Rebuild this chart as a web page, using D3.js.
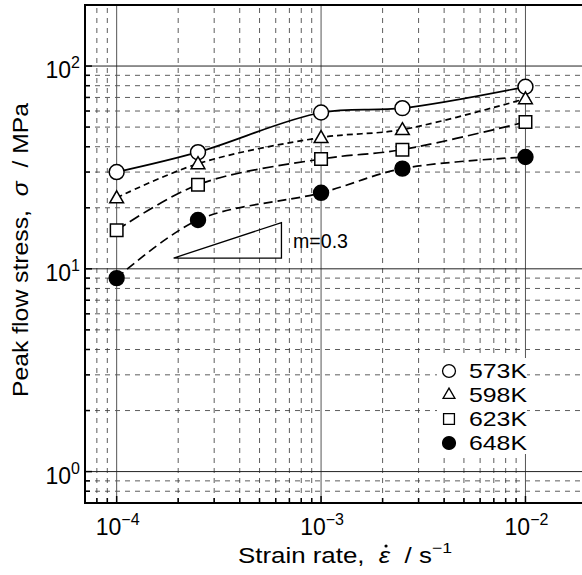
<!DOCTYPE html>
<html>
<head>
<meta charset="utf-8">
<script src="https://cdn.jsdelivr.net/npm/d3@7"></script>
<style>
  html, body { margin: 0; padding: 0; background: #fff; }
  svg { display: block; overflow: hidden; }
  text { font-family: "Liberation Sans", Arial, sans-serif; fill: #000; white-space: pre; }
</style>
</head>
<body>
<div id="chart"></div>
<script>
// strain rates (1/s) and peak flow stress (MPa)
const rates = [1e-4, 2.5e-4, 1e-3, 2.5e-3, 1e-2];
const s573 = [30, 37.6, 59, 62, 79];
const s598 = [22.4, 33, 44.4, 48.6, 69];
const s623 = [15.5, 26, 34.8, 38.7, 53];
const s648 = [9, 17.4, 23.7, 31.2, 35.6];
const seriesNames = ['573K', '598K', '623K', '648K'];

// slope marker triangle
const triX = [1.9e-4, 6.4e-4];
const triY = [11.3, 16.9];
const slopeLabel = 'm=0.3';

const xMajor = [1e-4, 1e-3, 1e-2];
const yMajor = [1, 10, 100];

const W = 582, H = 575;
const m = {l: 85, t: 5, r: -5, b: 72}; // right frame falls outside the window

const svg = d3.select('#chart').append('svg')
	.attr('width', W)
	.attr('height', H);

const x = d3.scaleLog().domain([7e-5, 2e-2]).range([m.l, W - m.r]);
const y = d3.scaleLog().domain([0.7, 200]).range([H - m.b, m.t]);

const x0 = x.range()[0], x1 = x.range()[1];
const y0 = y.range()[0], y1 = y.range()[1];

// minor values within the domain
function minors(dom) {
	const out = [];
	for (let e = -6; e <= 3; e++) {
		for (let k = 1; k <= 9; k++) {
			const v = k * Math.pow(10, e);
			if (v >= dom[0] * 0.999 && v <= dom[1] * 1.001) out.push(v);
		}
	}
	return out;
}
const xAll = minors(x.domain());
const yAll = minors(y.domain());
const isMajor = v => Math.abs(Math.log10(v) - Math.round(Math.log10(v))) < 1e-6;

const grid = svg.append('g').attr('class', 'grid');

// dashed minor grid
grid.selectAll('.vminor')
	.data(xAll.filter(v => !isMajor(v)))
	.enter().append('line')
	.attr('x1', d => x(d)).attr('x2', d => x(d))
	.attr('y1', y0).attr('y2', y1)
	.attr('stroke', '#333').attr('stroke-width', 0.8)
	.attr('stroke-dasharray', '5,5');

grid.selectAll('.hminor')
	.data(yAll.filter(v => !isMajor(v) && v < 150))
	.enter().append('line')
	.attr('y1', d => y(d)).attr('y2', d => y(d))
	.attr('x1', x0).attr('x2', x1)
	.attr('stroke', '#333').attr('stroke-width', 0.8)
	.attr('stroke-dasharray', '5,5');

// solid major grid
grid.selectAll('.vmajor')
	.data(xMajor)
	.enter().append('line')
	.attr('x1', d => x(d)).attr('x2', d => x(d))
	.attr('y1', y0).attr('y2', y1)
	.attr('stroke', '#555').attr('stroke-width', 1);

grid.selectAll('.hmajor')
	.data(yMajor)
	.enter().append('line')
	.attr('y1', d => y(d)).attr('y2', d => y(d))
	.attr('x1', x0).attr('x2', x1)
	.attr('stroke', '#222').attr('stroke-width', 1);

// inward ticks on left and bottom
svg.append('g').selectAll('line')
	.data(xAll)
	.enter().append('line')
	.attr('x1', d => x(d)).attr('x2', d => x(d))
	.attr('y1', y0).attr('y2', d => y0 - (isMajor(d) ? 7 : 5))
	.attr('stroke', '#000').attr('stroke-width', 1.5);

svg.append('g').selectAll('line')
	.data(yAll)
	.enter().append('line')
	.attr('y1', d => y(d)).attr('y2', d => y(d))
	.attr('x1', x0).attr('x2', d => x0 + (isMajor(d) ? 7 : 5))
	.attr('stroke', '#000').attr('stroke-width', 1.5);

// frame
svg.append('path')
	.attr('d', `M${x1},${y1}H${x0}V${y0}H${x1}`)
	.attr('fill', 'none')
	.attr('stroke', '#000')
	.attr('stroke-width', 2);

// tick labels (10^n)
const xt = svg.append('g').selectAll('text')
	.data(xMajor)
	.enter().append('text')
	.attr('x', d => x(d) + 1)
	.attr('y', 535)
	.attr('text-anchor', 'middle')
	.style('font-size', '23px');
xt.append('tspan').text('10');
xt.append('tspan')
	.attr('dy', -10)
	.style('font-size', '16px')
	.text(d => '\u2212' + Math.abs(Math.round(Math.log10(d))));

const yt = svg.append('g').selectAll('text')
	.data(yMajor)
	.enter().append('text')
	.attr('x', 80)
	.attr('y', d => y(d) + 12)
	.attr('text-anchor', 'end')
	.style('font-size', '23px');
yt.append('tspan').text('10');
yt.append('tspan')
	.attr('dy', -10)
	.style('font-size', '16px')
	.text(d => Math.round(Math.log10(d)));

// axis titles
const xTitle = svg.append('text')
	.attr('x', 238)
	.attr('y', 563)
	.attr('textLength', 214)
	.attr('lengthAdjust', 'spacingAndGlyphs')
	.style('font-size', '22px');
xTitle.append('tspan').text('Strain rate,  ');
xTitle.append('tspan').style('font-style', 'italic').text('\u03b5');
xTitle.append('tspan').text('  / s');
xTitle.append('tspan').attr('dy', -10).style('font-size', '15px').text('\u22121');

// dot over epsilon (strain rate)
const eps = xTitle.node().getExtentOfChar(14);
svg.append('circle')
	.attr('cx', eps.x + eps.width / 2 + 1.5)
	.attr('cy', 546)
	.attr('r', 1.6)
	.attr('fill', '#000');

const yTitle = svg.append('text')
	.attr('transform', 'translate(28,397) rotate(-90)')
	.attr('textLength', 294)
	.attr('lengthAdjust', 'spacingAndGlyphs')
	.style('font-size', '22px');
yTitle.append('tspan').text('Peak flow stress,  ');
yTitle.append('tspan').style('font-style', 'italic').text('\u03c3');
yTitle.append('tspan').text('  / MPa');

// series
const series = [
	{name: seriesNames[0], values: s573, dash: null, shape: 'circle', fill: '#fff'},
	{name: seriesNames[1], values: s598, dash: '6,4', shape: 'triangle', fill: '#fff'},
	{name: seriesNames[2], values: s623, dash: '11,5', shape: 'square', fill: '#fff'},
	{name: seriesNames[3], values: s648, dash: '9,5', shape: 'circle', fill: '#000'}
];

const line = d3.line()
	.x(d => x(d[0]))
	.y(d => y(d[1]))
	.curve(d3.curveCatmullRom.alpha(0.5));

const symbolType = {
	circle: d3.symbolCircle,
	triangle: d3.symbolTriangle2,
	square: d3.symbolSquare2
};
const symbolSize = {circle: 175, triangle: 135, square: 200};

const gS = svg.append('g').attr('class', 'series');

series.forEach(s => {
	const pts = rates.map((r, i) => [r, s.values[i]]);
	gS.append('path')
		.attr('d', line(pts))
		.attr('fill', 'none')
		.attr('stroke', '#000')
		.attr('stroke-width', 1.7)
		.attr('stroke-dasharray', s.dash);
});

series.forEach(s => {
	const pts = rates.map((r, i) => [r, s.values[i]]);
	gS.append('g').selectAll('path')
		.data(pts)
		.enter().append('path')
		.attr('transform', d => 'translate(' + x(d[0]) + ',' + (y(d[1]) + (s.shape === 'triangle' ? 1 : 0)) + ')')
		.attr('d', d3.symbol().type(symbolType[s.shape]).size(symbolSize[s.shape]))
		.attr('fill', s.fill)
		.attr('stroke', '#000')
		.attr('stroke-width', 1.5);
});

// slope triangle
svg.append('path')
	.attr('d', 'M' + x(triX[0]) + ',' + y(triY[0]) +
		'L' + x(triX[1]) + ',' + y(triY[0]) +
		'L' + x(triX[1]) + ',' + y(triY[1]) + 'Z')
	.attr('fill', 'none')
	.attr('stroke', '#000')
	.attr('stroke-width', 1.3);

svg.append('text')
	.attr('x', 293)
	.attr('y', 248)
	.attr('textLength', 55)
	.attr('lengthAdjust', 'spacingAndGlyphs')
	.style('font-size', '20px')
	.text(slopeLabel);

// legend
const legend = svg.append('g').attr('transform', 'translate(449,371)');

// white box behind legend
legend.append('rect')
	.attr('x', -12).attr('y', -13)
	.attr('width', 90).attr('height', 96)
	.attr('fill', '#fff');

const lg = legend.selectAll('g.item')
	.data(series)
	.enter().append('g')
	.attr('class', 'item')
	.attr('transform', (d, i) => 'translate(0,' + i * 24 + ')');

lg.append('path')
	.attr('d', d => d3.symbol().type(symbolType[d.shape]).size(symbolSize[d.shape] * 0.75)())
	.attr('fill', d => d.fill)
	.attr('stroke', '#000')
	.attr('stroke-width', 1.3);

lg.append('text')
	.attr('x', 20)
	.attr('y', 7)
	.attr('textLength', 58)
	.attr('lengthAdjust', 'spacingAndGlyphs')
	.style('font-size', '21px')
	.text(d => d.name);
</script>
</body>
</html>
